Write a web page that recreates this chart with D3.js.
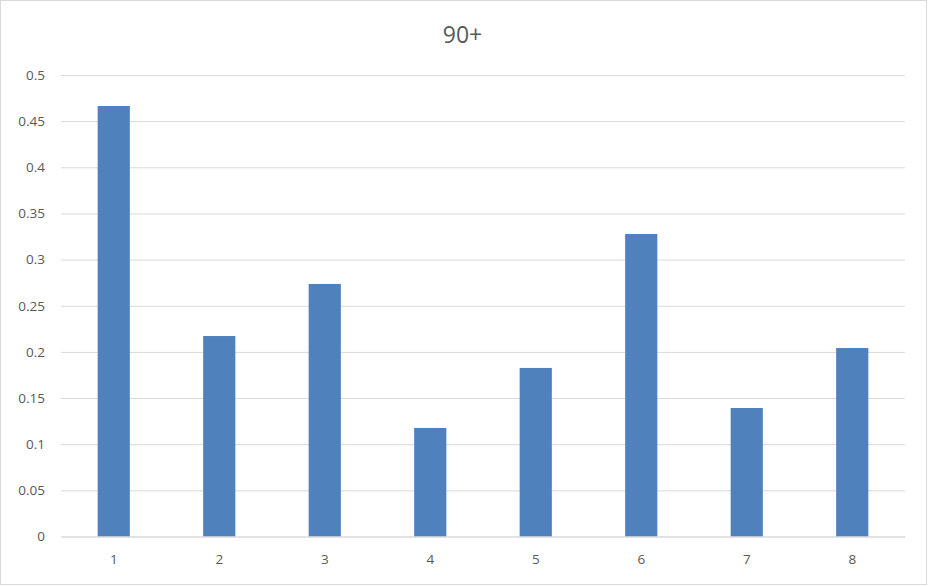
<!DOCTYPE html>
<html>
<head>
<meta charset="utf-8">
<script src="https://cdn.jsdelivr.net/npm/d3@7"></script>
<style>
html,body{margin:0;padding:0;background:#fff;}
svg{display:block;}
</style>
</head>
<body>
<svg id="chart" width="928" height="586"></svg>
<script>
const title = "90+";
const categories = ["1","2","3","4","5","6","7","8"];
const values = [0.4664, 0.2172, 0.2736, 0.1176, 0.1826, 0.3277, 0.1392, 0.2042];
const yTicks = [0, 0.05, 0.1, 0.15, 0.2, 0.25, 0.3, 0.35, 0.4, 0.45, 0.5];

const W = 928, H = 586;
const margin = {left: 61, right: 23, top: 75, bottom: 49.5};
const svg = d3.select("#chart");
const font = "'Open Sans', 'Noto Sans', sans-serif";

svg.append("rect").attr("x",0.5).attr("y",0.5).attr("width",W-2).attr("height",H-2)
  .attr("fill","#fff").attr("stroke","#d9d9d9").attr("stroke-width",1);

const x = d3.scaleBand().domain(categories).range([margin.left, W - margin.right]).padding(0);
const y = d3.scaleLinear().domain([0, 0.5]).range([H - margin.bottom, margin.top]);

// gridlines
const yAxis = d3.axisLeft(y).tickValues(yTicks).tickSize(-(W - margin.left - margin.right)).tickPadding(16)
  .tickFormat(d => d3.format("~g")(d));
const gy = svg.append("g").attr("transform", `translate(${margin.left},0)`).call(yAxis);
gy.select(".domain").remove();
gy.selectAll(".tick line").attr("stroke","#d9d9d9").attr("stroke-width",1);
gy.selectAll(".tick text").attr("fill","#595959").style("font-family",font).style("font-size","13.5px");

// bars
const bw = x.bandwidth() * 0.305;
svg.append("g").selectAll("rect").data(values).enter().append("rect")
  .attr("x", (d,i) => x(categories[i]) + x.bandwidth()/2 - bw/2)
  .attr("width", bw)
  .attr("y", d => y(d))
  .attr("height", d => y(0) - y(d))
  .attr("fill", "#4f81bd");

// x axis
const xAxis = d3.axisBottom(x).tickSize(0).tickPadding(18);
const gx = svg.append("g").attr("transform", `translate(0,${y(0)})`).call(xAxis);
gx.select(".domain").attr("stroke","#d9d9d9");
gx.selectAll(".tick text").attr("fill","#595959").style("font-family",font).style("font-size","13.5px");

// title
svg.append("text").attr("x", 462.5).attr("y", 43).attr("text-anchor","middle")
  .attr("fill","#595959").style("font-family",font).style("font-size","23px").text(title);
</script>
</body>
</html>
